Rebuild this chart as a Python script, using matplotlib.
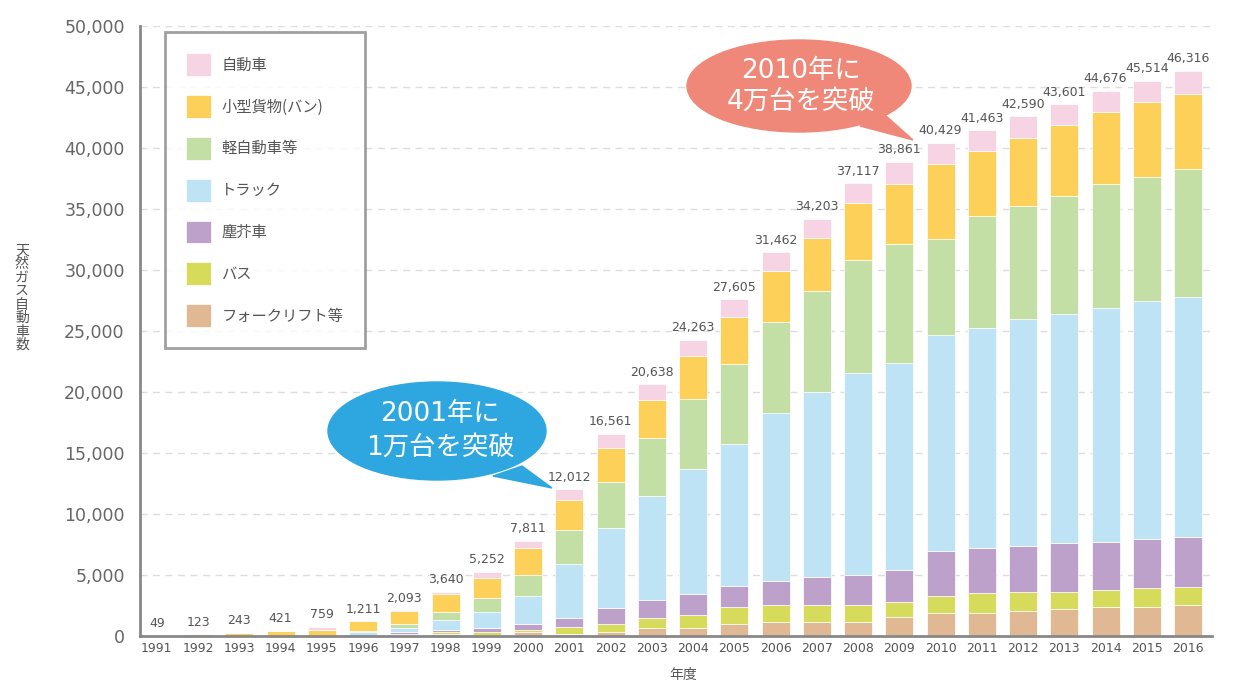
import numpy as np
import matplotlib
matplotlib.use("Agg")
import matplotlib.pyplot as plt
from matplotlib.patches import Ellipse, Polygon

plt.rcParams['font.family'] = ['DejaVu Sans', 'Noto Sans CJK JP']

# data, stacked bottom -> top
years = list(range(1991, 2017))
forklift = [0, 0, 0, 0, 0, 0, 100, 137, 120, 320, 150, 355, 683, 683, 1011, 1175,
            1175, 1175, 1557, 1885, 1885, 2022, 2186, 2404, 2404, 2541]
bus = [0, 0, 0, 0, 0, 0, 80, 165, 200, 150, 550, 656, 820, 1011, 1366, 1366,
       1366, 1366, 1257, 1421, 1639, 1612, 1448, 1393, 1530, 1502]
garbage = [0, 0, 0, 0, 0, 20, 170, 165, 320, 510, 750, 1311, 1475, 1776, 1748, 1967,
           2267, 2486, 2623, 3633, 3661, 3770, 3988, 3934, 4043, 4044]
truck = [0, 0, 0, 0, 0, 340, 330, 820, 1320, 2280, 4430, 6557, 8524, 10217, 11639, 13769,
         15152, 16493, 16973, 17735, 18063, 18554, 18773, 19156, 19484, 19702]
kei = [0, 0, 0, 0, 0, 80, 300, 680, 1130, 1780, 2790, 3743, 4726, 5725, 6552, 7453,
       8310, 9320, 9700, 7868, 9152, 9262, 9644, 10135, 10162, 10518]
van = [49, 123, 243, 421, 459, 760, 1080, 1475, 1660, 2150, 2500, 2814, 3157, 3506, 3798, 4154,
       4320, 4618, 4930, 6147, 5355, 5573, 5819, 5929, 6148, 6147]
car = [0, 0, 0, 0, 300, 11, 33, 198, 502, 621, 842, 1125, 1253, 1345, 1491, 1578,
       1613, 1659, 1821, 1740, 1708, 1797, 1743, 1725, 1743, 1862]
totals = [49, 123, 243, 421, 759, 1211, 2093, 3640, 5252, 7811, 12012, 16561, 20638, 24263,
          27605, 31462, 34203, 37117, 38861, 40429, 41463, 42590, 43601, 44676, 45514, 46316]

names = ["フォークリフト等", "バス", "塵芥車", "トラック", "軽自動車等", "小型貨物(バン)", "自動車"]
colors = ["#E0B894", "#D6DB5C", "#BDA1CA", "#BEE3F5", "#C4DFA5", "#FDD05A", "#F7D4E4"]
stack = [forklift, bus, garbage, truck, kei, van, car]

W, H = 1235, 691
fig = plt.figure(figsize=(W / 100, H / 100), dpi=100)
ax = fig.add_axes([140 / W, 1 - 636 / H, (1212 - 140) / W, (636 - 26) / H])

x = np.arange(len(years))
bottom = np.zeros(len(years))
for vals, c, name in zip(stack, colors, names):
    ax.bar(x, vals, 0.68, bottom=bottom, color=c, edgecolor='#ffffff', linewidth=0.5, label=name)
    bottom += np.array(vals)

for xi, t in zip(x, totals):
    ax.annotate(f"{t:,}", (xi, t), xytext=(0, 4), textcoords='offset points',
                ha='center', va='bottom', fontsize=9, color='#555555')

ax.set_xlim(-0.41, len(years) - 0.42)
ax.set_ylim(0, 50000)
yt = list(range(0, 50001, 5000))
ax.set_yticks(yt)
ax.set_yticklabels([f"{v:,}" for v in yt], fontsize=12.5, color='#666666')
ax.set_xticks(x)
ax.set_xticklabels([str(y) for y in years], fontsize=9, color='#555555')
ax.tick_params(axis='y', length=0, pad=11)
ax.tick_params(axis='x', length=0, pad=4)
ax.yaxis.grid(True, linestyle=(0, (5, 4)), color='#dddddd', linewidth=1)
ax.set_axisbelow(True)
for s in ['top', 'right']:
    ax.spines[s].set_visible(False)
for s in ['left', 'bottom']:
    ax.spines[s].set_color('#888888')
    ax.spines[s].set_linewidth(2)

fig.text(683 / W, 1 - 675 / H, "年度", ha='center', va='center', fontsize=10,
         color='#555555', family=['Noto Sans CJK JP'])
fig.text(22 / W, 1 - 298 / H, "\n".join("天然ガス自動車数"), ha='center', va='center',
         fontsize=10, color='#555555', family=['Noto Sans CJK JP'], linespacing=0.95)

handles, labels = ax.get_legend_handles_labels()
leg = ax.legend(handles[::-1], labels[::-1], loc='upper left',
                bbox_to_anchor=(165 / W, 1 - 32 / H), bbox_transform=fig.transFigure,
                borderaxespad=0, frameon=True, fancybox=False, edgecolor='#888888',
                handlelength=1.64, handleheight=1.91, labelspacing=1.25, borderpad=1.4,
                handletextpad=0.65, prop={'family': ['Noto Sans CJK JP'], 'size': 11})
leg.get_frame().set_linewidth(2)
for t in leg.get_texts():
    t.set_color('#555555')

# speech bubbles in pixel coordinates
ov = fig.add_axes([0, 0, 1, 1])
ov.set_xlim(0, W)
ov.set_ylim(H, 0)
ov.axis('off')
ov.patch.set_alpha(0)
bubble_font = ['DejaVu Sans', 'Noto Sans CJK JP']

blue = '#2EA7E0'
ov.add_patch(Ellipse((437, 431), 218, 98, color=blue))
ov.add_patch(Polygon([(493, 476), (522, 466), (552, 488)], closed=True, color=blue))
ov.text(440, 431, "2001年に\n1万台を突破", ha='center', va='center', color='white',
        fontsize=19, linespacing=1.42, family=bubble_font)

red = '#EF8878'
ov.add_patch(Ellipse((799, 86), 224, 92, color=red))
ov.add_patch(Polygon([(860, 126), (885, 115), (913, 140)], closed=True, color=red))
ov.text(801, 86, "2010年に\n4万台を突破", ha='center', va='center', color='white',
        fontsize=19, linespacing=1.25, family=bubble_font)

fig.savefig("out.png", dpi=100)
